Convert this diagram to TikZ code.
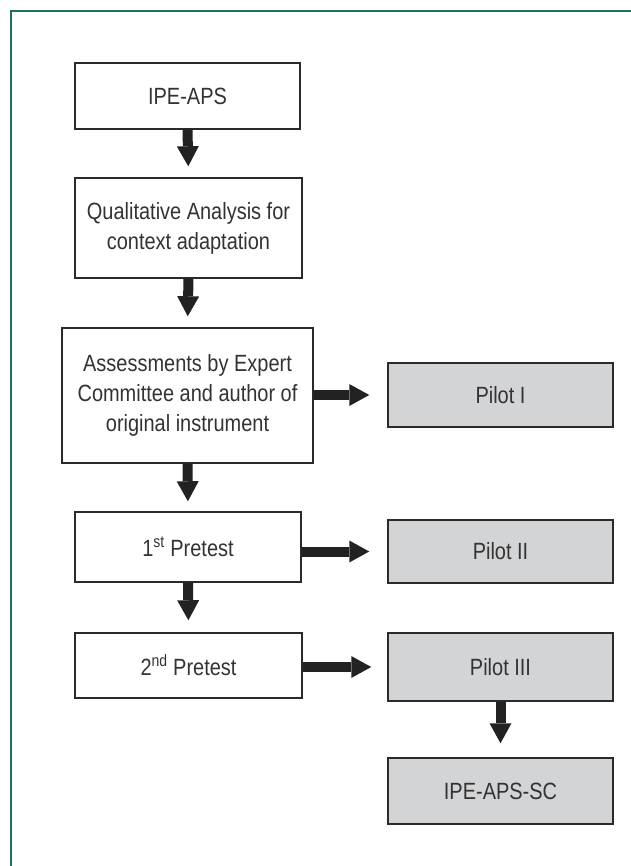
\documentclass[tikz,border=0pt]{standalone}
\usepackage{fontspec}
\setmainfont{Liberation Sans}[FakeStretch=0.85]
\usetikzlibrary{arrows.meta}
\definecolor{framecol}{HTML}{1F6E5E}
\definecolor{boxline}{HTML}{2A2A2A}
\definecolor{pilotfill}{HTML}{D3D4D6}
\definecolor{txt}{HTML}{333333}
\definecolor{arr}{HTML}{222222}
\begin{document}
\begin{tikzpicture}[x=1pt,y=-1pt,
  box/.style={draw=boxline, line width=1.5pt, fill=white, text=txt, align=center,
    inner sep=0pt, font=\fontsize{23.5}{30}\selectfont},
  pilot/.style={box, fill=pilotfill},
  flow/.style={draw=arr, line width=10pt,
    -{Triangle[width=22pt,length=20pt,line width=0pt]}}
]
\useasboundingbox (0,0) rectangle (630,866);
\coordinate (f1) at (640,11);
\coordinate (f2) at (11,11);
\coordinate (f3) at (11,876);
\draw[framecol, line width=2pt] (f1) -- (f2) -- (f3);

\node[box, minimum width=225pt, minimum height=66pt] (n1) at (187.5,96) {IPE-APS};
\node[box, minimum width=227pt, minimum height=100pt] (n2) at (188.5,228) {Qualitative Analysis for\\context adaptation};
\node[box, minimum width=251pt, minimum height=135pt] (n3) at (187.5,395.5) {Assessments by Expert\\Committee and author of\\original instrument};
\node[box, minimum width=226pt, minimum height=70pt] (n4) at (188,547) {1\textsuperscript{st} Pretest};
\node[box, minimum width=227pt, minimum height=65pt] (n5) at (188.5,665.5) {2\textsuperscript{nd} Pretest};

\node[pilot, minimum width=225pt, minimum height=64pt] (p1) at (500.5,395) {Pilot I};
\node[pilot, minimum width=225pt, minimum height=63pt] (p2) at (500.5,551.5) {Pilot II};
\node[pilot, minimum width=225pt, minimum height=68pt] (p3) at (500.5,667) {Pilot III};
\node[pilot, minimum width=225pt, minimum height=66pt] (p4) at (500.5,791) {IPE-APS-SC};

\draw[flow, shorten >=11pt] (n1.south) -- (n2.north);
\draw[flow, shorten >=11pt] (n2.south) -- (n3.north);
\draw[flow, shorten >=10pt] (n3.south) -- (n4.north);
\draw[flow, shorten >=12pt] (n4.south) -- (n5.north);
\draw[flow, shorten >=14pt] (p3.south) -- (p4.north);

\draw[flow, shorten >=18pt] (p1.west -| n3.east) -- (p1.west);
\draw[flow, shorten >=18pt] (p2.west -| n4.east) -- (p2.west);
\draw[flow, shorten >=16pt] (p3.west -| n5.east) -- (p3.west);
\end{tikzpicture}
\end{document}
